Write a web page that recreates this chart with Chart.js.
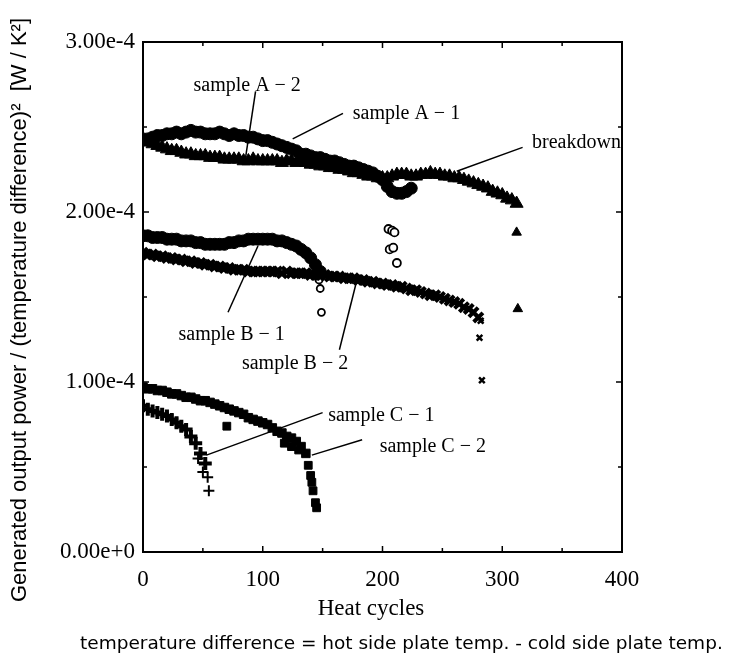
<!DOCTYPE html>
<html>
<head>
<meta charset="utf-8">
<script src="https://cdn.jsdelivr.net/npm/chart.js@4.4.0/dist/chart.umd.min.js"></script>
<style>
html, body { margin: 0; padding: 0; background: #fff; }
#wrap { width: 747px; height: 660px; }
</style>
</head>
<body>
<div id="wrap"><canvas id="myChart" width="747" height="660"></canvas></div>
<script>
// heat cycle numbers (every 4th cycle is plotted)
var cycles = [0,4,8,12,16,20,24,28,32,36,40,44,48,52,56,60,64,68,72,76,80,84,88,92,96,100,
  104,108,112,116,120,124,128,132,136,140,144,148,152,156,160,164,168,172,176,180,184,188,192,196,200,
  204,208,212,216,220,224,228,232,236,240,244,248,252,256,260,264,268,272,276,280,284,288,292,296,300,
  304,308,312];

// values in units of 1e-4 W/K^2
var a1Values = [2.43,2.43,2.44,2.45,2.45,2.46,2.46,2.47,2.46,2.47,2.48,2.47,2.47,2.46,2.46,2.46,2.47,2.46,
  2.45,2.46,2.45,2.45,2.44,2.44,2.43,2.42,2.42,2.41,2.40,2.39,2.38,2.37,2.36,2.34,2.34,2.33,2.32,2.32,
  2.31,2.30,2.30,2.29,2.28,2.27,2.27,2.26,2.25,2.24,2.23,2.21,2.19,2.15,2.12,2.11,2.11,2.12,2.14];
var a2Values = [2.42,2.41,2.40,2.39,2.38,2.37,2.36,2.36,2.35,2.34,2.34,2.33,2.33,2.33,2.32,2.32,2.32,2.31,
  2.31,2.31,2.31,2.30,2.30,2.31,2.30,2.30,2.30,2.30,2.30,2.29,2.30,2.30,2.29,2.30,2.29,2.28,2.28,2.27,
  2.27,2.26,2.26,2.25,2.25,2.24,2.23,2.23,2.22,2.21,2.21,2.20,2.20,2.20,2.21,2.22,2.22,2.22,2.21,2.21,
  2.22,2.22,2.23,2.22,2.22,2.21,2.21,2.20,2.20,2.19,2.18,2.17,2.16,2.15,2.14,2.12,2.11,2.10,2.08,2.07,2.05];
var b1Values = [1.86,1.86,1.85,1.85,1.85,1.84,1.84,1.84,1.83,1.83,1.83,1.82,1.82,1.81,1.81,1.81,1.81,1.81,
  1.82,1.82,1.83,1.83,1.84,1.84,1.84,1.84,1.84,1.84,1.83,1.83,1.82,1.81,1.80,1.78,1.76,1.73,1.69,1.65];
var b2Values = [1.76,1.75,1.75,1.74,1.74,1.73,1.73,1.72,1.72,1.71,1.71,1.70,1.70,1.69,1.69,1.68,1.68,1.67,
  1.67,1.66,1.66,1.66,1.65,1.65,1.65,1.65,1.65,1.65,1.65,1.64,1.65,1.64,1.64,1.64,1.64,1.63,1.63,1.63,
  1.63,1.62,1.62,1.62,1.61,1.61,1.61,1.60,1.60,1.59,1.59,1.58,1.58,1.57,1.57,1.56,1.56,1.55,1.54,1.54,
  1.53,1.52,1.51,1.51,1.50,1.49,1.48,1.47,1.46,1.44,1.43,1.41,1.38];
var c1Values = [0.86,0.84,0.83,0.82,0.81,0.80,0.78,0.76,0.74,0.72,0.68,0.64,0.58,0.52];
var c2Values = [0.97,0.96,0.96,0.95,0.95,0.94,0.93,0.93,0.92,0.91,0.91,0.90,0.89,0.89,0.88,0.87,0.86,0.85,
  0.84,0.83,0.82,0.81,0.79,0.78,0.77,0.76,0.75,0.73,0.71,0.70,0.68,0.67,0.65,0.62,0.58];

// scattered points after the curves drop (breakdown)
var a1ExtraX = [205, 208, 210, 206, 209, 212];
var a1ExtraY = [1.90, 1.89, 1.88, 1.78, 1.79, 1.70];
var a2ExtraX = [312, 313];
var a2ExtraY = [1.88, 1.43];
var b1ExtraX = [147, 148, 149];
var b1ExtraY = [1.60, 1.55, 1.41];
var b2ExtraX = [282, 281, 283];
var b2ExtraY = [1.36, 1.26, 1.01];
var c1ExtraX = [46, 50, 54, 55];
var c1ExtraY = [0.55, 0.47, 0.44, 0.36];
var c2ExtraX = [70, 118, 124, 130, 138, 140, 141, 142, 144, 145];
var c2ExtraY = [0.74, 0.64, 0.62, 0.60, 0.51, 0.45, 0.41, 0.36, 0.29, 0.26];

// callout labels, positions in data units (cycles, 1e-4)
var callouts = [
  { text: "sample A \u2212 2", tx: 87, ty: 2.74, x1: 94, y1: 2.71, x2: 85, y2: 2.29 },
  { text: "sample A \u2212 1", tx: 220, ty: 2.58, x1: 167, y1: 2.58, x2: 125, y2: 2.43 },
  { text: "breakdown", tx: 362, ty: 2.41, x1: 317, y1: 2.38, x2: 262, y2: 2.24 },
  { text: "sample B \u2212 1", tx: 74, ty: 1.28, x1: 71, y1: 1.41, x2: 96, y2: 1.80 },
  { text: "sample B \u2212 2", tx: 127, ty: 1.11, x1: 164, y1: 1.19, x2: 179, y2: 1.61 },
  { text: "sample C \u2212 1", tx: 199, ty: 0.80, x1: 150, y1: 0.82, x2: 53, y2: 0.57 },
  { text: "sample C \u2212 2", tx: 242, ty: 0.62, x1: 183, y1: 0.66, x2: 141, y2: 0.57 }
];

function curvePoints(vals) {
  return vals.map(function (v, i) { return { x: cycles[i], y: v * 1e-4 }; });
}
function extraPoints(exX, exY) {
  return exX.map(function (x, i) { return { x: x, y: exY[i] * 1e-4 }; });
}

function series(label, pts, style, radius, bw, fill) {
  return {
    label: label,
    data: pts,
    pointStyle: style,
    pointRadius: radius,
    borderWidth: bw,
    backgroundColor: fill || "#000",
    borderColor: "#000",
    showLine: false
  };
}

var frame = {
  id: "frame",
  afterDraw: function (chart) {
    var ctx = chart.ctx, a = chart.chartArea;
    var sx = chart.scales.x, sy = chart.scales.y;
    ctx.save();
    ctx.strokeStyle = "#000";
    ctx.lineWidth = 2;
    ctx.strokeRect(a.left, a.top, a.right - a.left, a.bottom - a.top);
    ctx.lineWidth = 1.5;
    ctx.beginPath();
    for (var c = 0; c <= 400; c += 50) {
      var px = sx.getPixelForValue(c), len = c % 100 === 0 ? 6 : 4;
      ctx.moveTo(px, a.bottom); ctx.lineTo(px, a.bottom - len);
      ctx.moveTo(px, a.top); ctx.lineTo(px, a.top + len);
    }
    for (var v = 0; v <= 3; v += 0.5) {
      var py = sy.getPixelForValue(v * 1e-4), l2 = v % 1 === 0 ? 6 : 4;
      ctx.moveTo(a.left, py); ctx.lineTo(a.left + l2, py);
      ctx.moveTo(a.right, py); ctx.lineTo(a.right - l2, py);
    }
    ctx.stroke();

    // callouts
    ctx.fillStyle = "#000";
    ctx.font = "20px 'Liberation Serif'";
    ctx.textAlign = "center";
    ctx.textBaseline = "middle";
    ctx.lineWidth = 1.5;
    callouts.forEach(function (c) {
      ctx.fillText(c.text, sx.getPixelForValue(c.tx), sy.getPixelForValue(c.ty * 1e-4));
      ctx.beginPath();
      ctx.moveTo(sx.getPixelForValue(c.x1), sy.getPixelForValue(c.y1 * 1e-4));
      ctx.lineTo(sx.getPixelForValue(c.x2), sy.getPixelForValue(c.y2 * 1e-4));
      ctx.stroke();
    });

    // axis titles and footnote
    ctx.font = "23px 'Liberation Serif'";
    ctx.fillText("Heat cycles", 371, 609);
    ctx.save();
    ctx.translate(20, 310);
    ctx.rotate(-Math.PI / 2);
    ctx.font = "22px 'Liberation Sans'";
    ctx.fillText("Generated output power / (temperature difference)\u00b2  [W / K\u00b2]", 0, 0);
    ctx.restore();
    ctx.font = "18.5px 'DejaVu Sans'";
    ctx.textAlign = "left";
    ctx.fillText("temperature difference = hot side plate temp. - cold side plate temp.", 80, 644);
    ctx.restore();
  }
};

var ctx = document.getElementById("myChart").getContext("2d");

var data = {
  datasets: [
    series("sample A-1", curvePoints(a1Values), "circle", 6, 1),
    series("sample A-2", curvePoints(a2Values), "triangle", 7.5, 1),
    series("sample B-1", curvePoints(b1Values), "circle", 6, 1),
    series("sample B-2", curvePoints(b2Values), "crossRot", 6.5, 4),
    series("sample C-1", curvePoints(c1Values), "cross", 6.5, 4),
    series("sample C-2", curvePoints(c2Values), "rect", 6, 1),
    series("A-1 breakdown", extraPoints(a1ExtraX, a1ExtraY), "circle", 4, 1.8, "#fff"),
    series("A-2 breakdown", extraPoints(a2ExtraX, a2ExtraY), "triangle", 5.5, 1),
    series("B-1 breakdown", extraPoints(b1ExtraX, b1ExtraY), "circle", 3.5, 1.8, "#fff"),
    series("B-2 breakdown", extraPoints(b2ExtraX, b2ExtraY), "crossRot", 4, 2.5),
    series("C-1 breakdown", extraPoints(c1ExtraX, c1ExtraY), "cross", 5.5, 2),
    series("C-2 breakdown", extraPoints(c2ExtraX, c2ExtraY), "rect", 5.5, 1)
  ]
};

var tickFont = { family: "Liberation Serif", size: 23 };

var config = {
  type: "scatter",
  data: data,
  options: {
    responsive: false,
    animation: false,
    layout: { padding: { top: 42, right: 125, left: 0, bottom: 0 } },
    plugins: {
      legend: { display: false },
      tooltip: { enabled: false }
    },
    scales: {
      x: {
        type: "linear",
        min: 0,
        max: 400,
        grid: { display: false, drawTicks: false },
        border: { display: false },
        ticks: { stepSize: 100, padding: 14, color: "#000", font: tickFont },
        afterFit: function (s) { s.height = 108; }
      },
      y: {
        min: 0,
        max: 3e-4,
        grid: { display: false, drawTicks: false },
        border: { display: false },
        ticks: {
          stepSize: 1e-4,
          padding: 8,
          color: "#000",
          font: tickFont,
          callback: function (v) { return Number(v).toExponential(2); }
        },
        afterFit: function (s) { s.width = 143; }
      }
    }
  },
  plugins: [frame]
};

var myChart = new Chart(ctx, config);
</script>
</body>
</html>
